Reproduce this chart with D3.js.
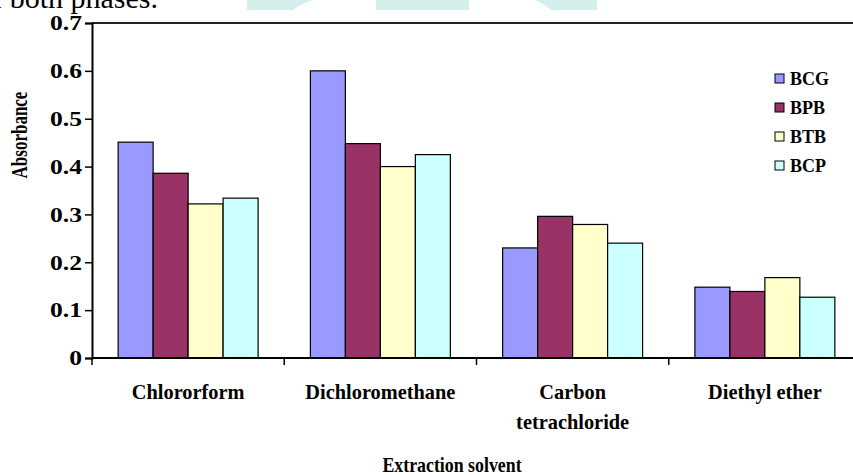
<!DOCTYPE html>
<html>
<head>
<meta charset="utf-8">
<script src="https://cdn.jsdelivr.net/npm/d3@7"></script>
<style>
  body { margin: 0; background: #fff; }
  svg text { font-family: "Liberation Serif", "Times New Roman", serif; font-weight: bold; fill: #000; }
</style>
</head>
<body>
<svg id="chart" width="853" height="475"></svg>
<script>
// chart data
const categories = ['Chlororform', 'Dichloromethane', 'Carbon\ntetrachloride', 'Diethyl ether'];
const series = ['BCG', 'BPB', 'BTB', 'BCP'];
const seriesColors = ['#9999FF', '#993366', '#FFFFCC', '#CCFFFF'];
const bcg = [0.451, 0.600, 0.230, 0.148];
const bpb = [0.386, 0.448, 0.296, 0.139];
const btb = [0.322, 0.400, 0.279, 0.168];
const bcp = [0.334, 0.425, 0.240, 0.127];
const yTicks = [0, 0.1, 0.2, 0.3, 0.4, 0.5, 0.6, 0.7];

const values = [bcg, bpb, btb, bcp];
const rows = categories.map((c, i) => ({
  cat: c,
  vals: series.map((s, j) => ({ key: s, value: values[j][i], color: seriesColors[j] }))
}));

const svg = d3.select('#chart');
const plotLeft = 92, plotRight = 861, plotTop = 23, plotBottom = 358;

// faint watermark bits + cut-off caption from the page above the chart
const wm = svg.append('g').attr('fill', '#D2EFEC');
wm.append('path').attr('d', 'M247,0 H313 Q300,4 293,10 H247 Z');
wm.append('rect').attr('x', 376).attr('y', 0).attr('width', 93).attr('height', 10);
wm.append('path').attr('d', 'M535,0 H597 V10 H551 Q545,4 535,0 Z');
svg.append('text')
  .attr('x', 158).attr('y', 8)
  .attr('text-anchor', 'end')
  .style('font-weight', 'normal')
  .style('font-size', '30px')
  .text('of both phases.');

const x = d3.scaleBand()
  .domain(categories)
  .range([plotLeft, plotRight])
  .paddingInner(0.272)
  .paddingOuter(0.136);

const xs = d3.scaleBand()
  .domain(series)
  .range([0, x.bandwidth()]);

const y = d3.scaleLinear().domain([0, 0.7]).range([plotBottom, plotTop]);

// top frame line
svg.append('line')
  .attr('x1', plotLeft).attr('x2', 853)
  .attr('y1', plotTop).attr('y2', plotTop)
  .attr('stroke', '#222').attr('stroke-width', 2);

// bars
const groups = svg.append('g').selectAll('g')
  .data(rows)
  .join('g')
  .attr('transform', d => `translate(${x(d.cat)},0)`);

groups.selectAll('rect')
  .data(d => d.vals)
  .join('rect')
  .attr('x', d => xs(d.key))
  .attr('y', d => y(d.value))
  .attr('width', xs.bandwidth())
  .attr('height', d => y(0) - y(d.value))
  .attr('fill', d => d.color)
  .attr('stroke', '#000')
  .attr('stroke-width', 1.2);

// y axis
const yAxis = svg.append('g')
  .attr('transform', `translate(${plotLeft},0)`)
  .call(d3.axisLeft(y).tickValues(yTicks).tickSize(7).tickPadding(10)
    .tickFormat(d => d === 0 ? '0' : d.toFixed(1)));
yAxis.select('.domain').attr('stroke', '#000').attr('stroke-width', 2);
yAxis.selectAll('.tick line').attr('stroke', '#000').attr('stroke-width', 1.5);
yAxis.selectAll('.tick text')
  .style('font-size', '20px')
  .attr('x', -10 / 1.28)
  .attr('dy', '0.34em')
  .attr('transform', 'scale(1.28,1)');

// x axis: ticks at category boundaries
const xAxis = svg.append('g');
xAxis.append('line')
  .attr('x1', plotLeft).attr('x2', 853)
  .attr('y1', plotBottom).attr('y2', plotBottom)
  .attr('stroke', '#000').attr('stroke-width', 2);
const step = x.step();
xAxis.selectAll('.xtick')
  .data(categories)
  .join('line')
  .attr('class', 'xtick')
  .attr('x1', d => x(d) - x.paddingInner() * step / 2)
  .attr('x2', d => x(d) - x.paddingInner() * step / 2)
  .attr('y1', plotBottom).attr('y2', plotBottom + 7)
  .attr('stroke', '#000').attr('stroke-width', 1.5);

xAxis.selectAll('.xlabel')
  .data(categories)
  .join('text')
  .attr('class', 'xlabel')
  .attr('text-anchor', 'middle')
  .style('font-size', '21px')
  .attr('transform', d => `translate(${x(d) + x.bandwidth() / 2},399) scale(0.97,1)`)
  .selectAll('tspan')
  .data(d => d.split('\n'))
  .join('tspan')
  .attr('x', 0)
  .attr('y', (d, i) => i * 30)
  .text(d => d);

// axis titles
svg.append('text')
  .attr('text-anchor', 'middle')
  .style('font-size', '21px')
  .attr('transform', 'translate(452,472) scale(0.85,1)')
  .text('Extraction solvent');

svg.append('text')
  .attr('text-anchor', 'middle')
  .style('font-size', '17px')
  .attr('transform', 'translate(27,135) rotate(-90) scale(1,1.3)')
  .text('Absorbance');

// legend
const legend = svg.append('g').selectAll('g')
  .data(series)
  .join('g')
  .attr('transform', (d, i) => `translate(775,${79 + i * 29})`);
legend.append('rect')
  .attr('x', 0).attr('y', -5)
  .attr('width', 9).attr('height', 9)
  .attr('fill', (d, i) => seriesColors[i])
  .attr('stroke', '#000').attr('stroke-width', 1);
legend.append('text')
  .attr('x', 15).attr('y', 6)
  .style('font-size', '18px')
  .text(d => d);
</script>
</body>
</html>
